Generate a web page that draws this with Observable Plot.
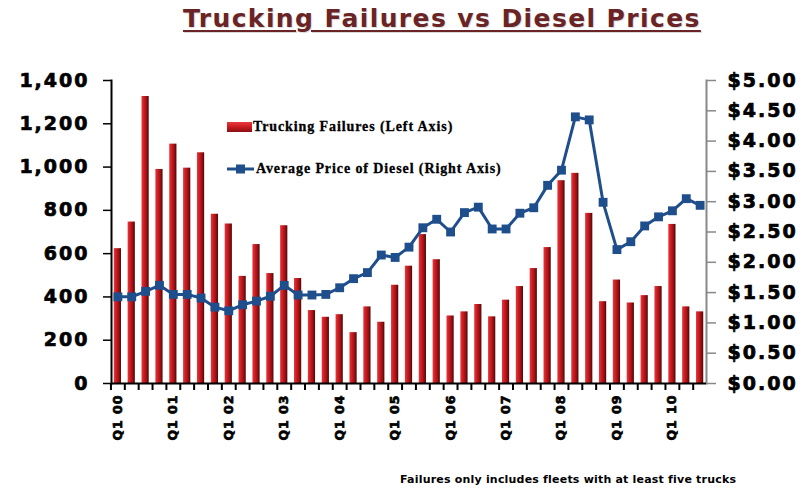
<!DOCTYPE html>
<html><head><meta charset="utf-8">
<script src="https://cdn.jsdelivr.net/npm/d3@7"></script>
<script src="https://cdn.jsdelivr.net/npm/@observablehq/plot@0.6"></script>
<style>
body{margin:0;background:#fff;width:805px;height:489px;position:relative;overflow:hidden;font-family:"Liberation Sans",Arial,sans-serif}
#title{position:absolute;left:183px;top:6px;font:bold 25px/26px "DejaVu Sans",sans-serif;letter-spacing:1.4px;color:#6b2425;text-decoration:underline;text-decoration-thickness:2px;text-underline-offset:3px;white-space:nowrap;text-shadow:1px 1px 1px rgba(0,0,0,0.15)}
#chart{position:absolute;left:0;top:48px}
.leg{position:absolute;font:bold 14px/14px "Liberation Serif","Times New Roman",serif;color:#000;white-space:nowrap;letter-spacing:0.9px;-webkit-text-stroke:0.3px #000}
#caption{position:absolute;left:400px;top:473px;font:bold 11px/13px "DejaVu Sans",sans-serif;letter-spacing:0.2px;color:#000;white-space:nowrap}
</style>
</head><body>
<div id="title">Trucking Failures vs Diesel Prices</div>
<div id="chart"></div>
<svg id="sw1" style="position:absolute;left:227px;top:122px" width="25" height="10"><defs><linearGradient id="legGrad" x1="0" y1="0" x2="0" y2="1"><stop offset="0" stop-color="#e83a3f"/><stop offset="0.5" stop-color="#c81a1f"/><stop offset="1" stop-color="#8b0f12"/></linearGradient></defs><rect x="0" y="0" width="25" height="10" fill="url(#legGrad)"/></svg>
<div class="leg" style="left:253px;top:120px">Trucking Failures (Left Axis)</div>
<svg id="sw2" style="position:absolute;left:227px;top:163px" width="27" height="12"><line x1="0" y1="6" x2="27" y2="6" stroke="#1f4e8c" stroke-width="3"/><rect x="9" y="1.5" width="9" height="9" fill="#1f4e8c"/></svg>
<div class="leg" style="left:256px;top:162px">Average Price of Diesel (Right Axis)</div>
<div id="caption">Failures only includes fleets with at least five trucks</div>
<script>
// categories
const years = ["00","01","02","03","04","05","06","07","08","09","10"];
const qtrs = ["Q1","Q2","Q3","Q4"];
const quarters = years.flatMap(y => qtrs.map(q => q + " " + y)).slice(0, 43);
// series: trucking failures (left axis)
const failures = [623,746,1326,989,1106,995,1066,782,737,495,642,508,729,485,337,306,318,235,354,283,454,542,688,572,312,331,365,308,385,448,531,628,937,971,786,378,478,372,406,448,735,354,331];
// series: average diesel price (right axis, $)
const diesel = [1.43,1.43,1.52,1.62,1.47,1.47,1.41,1.26,1.20,1.30,1.36,1.44,1.62,1.46,1.46,1.47,1.58,1.73,1.83,2.12,2.08,2.25,2.57,2.71,2.50,2.82,2.91,2.55,2.55,2.81,2.90,3.27,3.52,4.40,4.35,2.99,2.21,2.34,2.60,2.75,2.85,3.05,2.94];
// tick labels
const leftTicks = [0,200,400,600,800,1000,1200,1400];
const rightTicks = [0,0.5,1,1.5,2,2.5,3,3.5,4,4.5,5];
const xLabelTicks = quarters.filter(q => q.startsWith("Q1"));

const data = quarters.map((q,i) => ({q, f: failures[i], p: diesel[i]}));
const W=805,H=410,ml=111,mr=99,mt=32,mb=75;
const pi=0.48,po=0.2;
const step=(W-ml-mr)/(quarters.length-pi+2*po);
const k=1400/5;

const plot = Plot.plot({
  width:W,height:H,marginLeft:ml,marginRight:mr,marginTop:mt,marginBottom:mb,
  style:{fontFamily:"'DejaVu Sans',sans-serif",fontWeight:"bold",fontSize:"19px",color:"#000",background:"transparent",overflow:"visible",letterSpacing:"2px"},
  x:{type:"band",domain:quarters,paddingInner:pi,paddingOuter:po,axis:null},
  y:{domain:[0,1400],axis:null},
  marks:[
    Plot.barY(data,{x:"q",y:"f",fill:"url(#barGrad)"}),
    Plot.axisY(leftTicks,{anchor:"left",label:null,tickSize:8,tickPadding:14,tickFormat:d3.format(","),stroke:"#000",strokeWidth:1.5}),
    Plot.axisY(rightTicks.map(v=>v*k),{anchor:"right",label:null,tickSize:9,tickPadding:12,tickFormat:d=>"$"+(d/k).toFixed(2),stroke:"#888",strokeWidth:1.5}),
    Plot.frame({anchor:"left",stroke:"#000",strokeWidth:2}),
    Plot.frame({anchor:"right",stroke:"#888",strokeWidth:2}),
    Plot.axisX(quarters,{anchor:"bottom",label:null,tickSize:7,tickFormat:()=>"",dx:-step/2,stroke:"#000",strokeWidth:2}),
    Plot.axisX(xLabelTicks,{anchor:"bottom",label:null,tickSize:0,tickPadding:11,tickRotate:-90,fontSize:12.5}),
    Plot.ruleY([0],{stroke:"#000",strokeWidth:2}),
    Plot.lineY(data,{x:"q",y:d=>d.p*k,stroke:"#1f4e8c",strokeWidth:3}),
    Plot.dot(data,{x:"q",y:d=>d.p*k,symbol:"square",r:5,fill:"#1f4e8c"})
  ]
});
const defs = d3.select(plot).insert("defs",":first-child");
const g = defs.append("linearGradient").attr("id","barGrad").attr("x1","0").attr("x2","1").attr("y1","0").attr("y2","0");
[[0,"#e8383d"],[0.35,"#cc1c21"],[0.7,"#991014"],[1,"#4a0808"]].forEach(([o,c])=>g.append("stop").attr("offset",o).attr("stop-color",c));
d3.select(plot).selectAll('[aria-label="x-axis tick label"]').style("letter-spacing","1px");
d3.select(plot).selectAll('[aria-label$="tick label"] text').style("stroke","#000").style("stroke-width","0.7px");
document.getElementById("chart").appendChild(plot);
</script>
</body></html>
